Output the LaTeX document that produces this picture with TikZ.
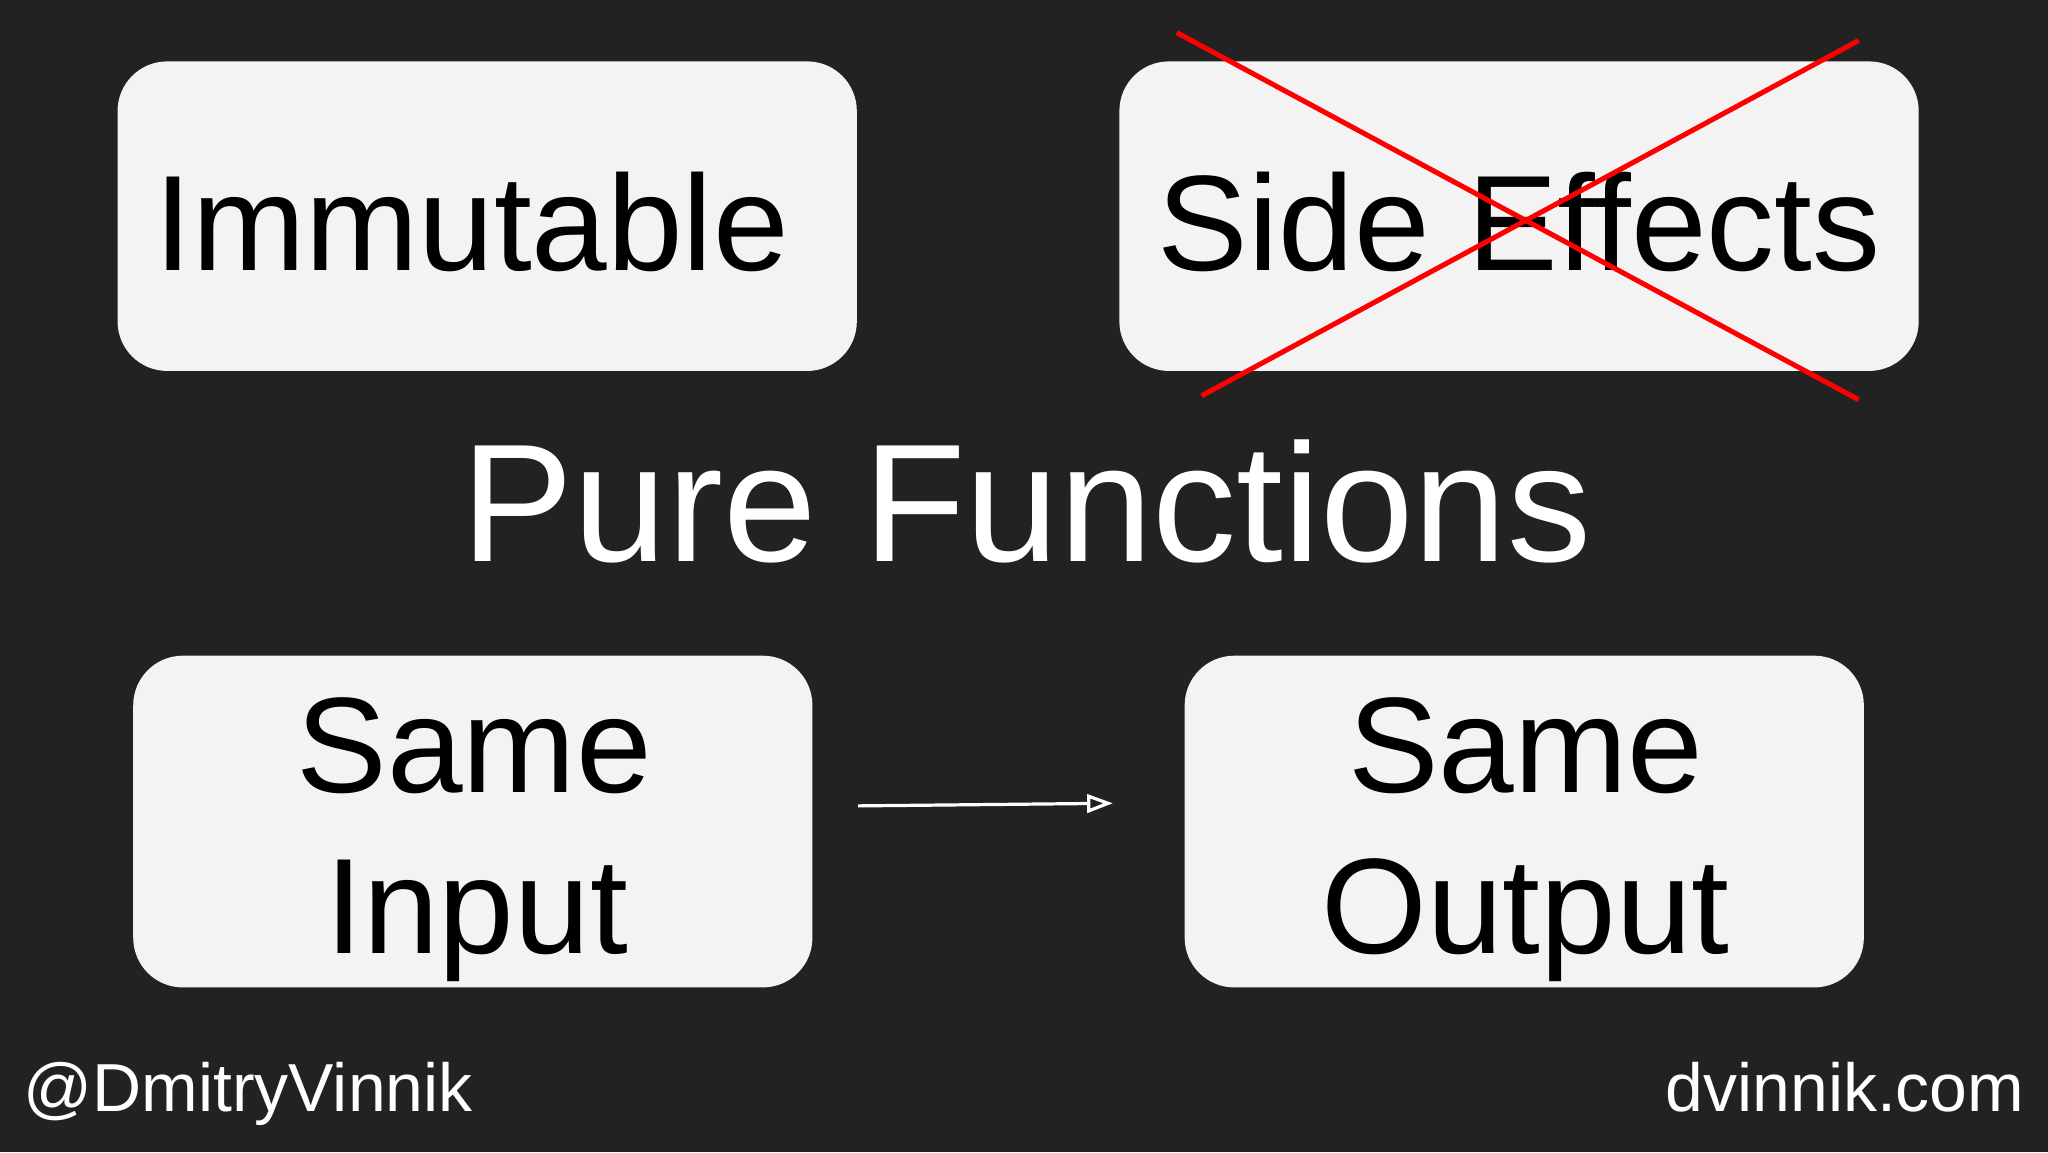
\documentclass[tikz,border=0pt]{standalone}
\usepackage{fontspec}
\setmainfont{Liberation Sans}
\usetikzlibrary{arrows.meta}
\definecolor{bg}{HTML}{222222}
\definecolor{boxfill}{HTML}{F3F3F4}
\tikzset{
  card/.style={draw=none, fill=boxfill, rounded corners=1.9cm},
  big/.style={font=\fontsize{148}{175}\selectfont, text=black, inner sep=0pt},
  title/.style={font=\fontsize{183}{200}\selectfont, text=white, inner sep=0pt},
  foot/.style={font=\fontsize{74}{80}\selectfont, text=white, inner sep=0pt},
  cross/.style={draw=red, line width=5.5pt},
}
\begin{document}
\begin{tikzpicture}[x=0.05cm,y=-0.05cm]
\fill[bg] (0,0) rectangle (1568,882);
\useasboundingbox (0,0) rectangle (1568,882);
\draw[card] (90,47) rectangle (656,284);
\draw[card] (857,47) rectangle (1469,284);
\draw[card] (102,502) rectangle (622,756);
\draw[card] (907,502) rectangle (1427,756);
\node[big, anchor=base] (imm) at (361,207) {Immutable};
\node[big, anchor=base] (side) at (1163,207) {Side Effects};
\draw[cross] (901,25) -- (1423,306);
\draw[cross] (1423,31) -- (920,303);
\node[title, anchor=base] (pure) at (786,430) {Pure Functions};
\node[big, anchor=base] (same1) at (363,607) {Same};
\node[big, anchor=base] (inp) at (365,730) {Input};
\node[big, anchor=base] (same2) at (1168,607) {Same};
\node[big, anchor=base] (outp) at (1168,730) {Output};
\coordinate (a1) at (657,617);
\coordinate (a2) at (852,615);
\draw[white, line width=3.5pt, -{Triangle[open, length=28pt, width=20pt]}] (a1) -- (a2);
\node[foot, anchor=base west] (tw) at (18,851) {@DmitryVinnik};
\node[foot, anchor=base east] (web) at (1550,851) {dvinnik.com};
\end{tikzpicture}
\end{document}
